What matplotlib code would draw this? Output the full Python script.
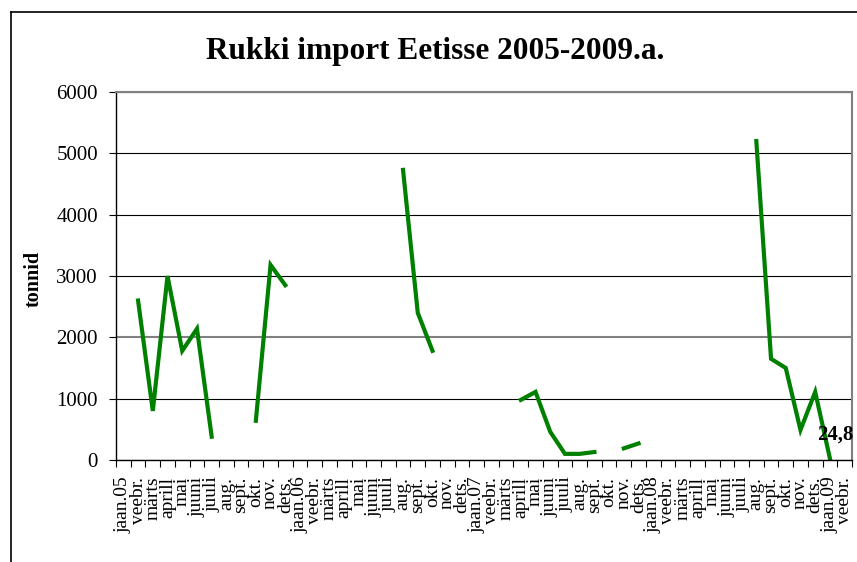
import numpy as np
import matplotlib
matplotlib.use('Agg')
import matplotlib.pyplot as plt
from matplotlib.lines import Line2D

# 字体设置
plt.rcParams['font.family'] = ['Liberation Serif', 'DejaVu Serif']

# 数据：月份标签
months = ['jaan.', 'veebr.', 'märts', 'aprill', 'mai', 'juuni',
          'juuli', 'aug.', 'sept.', 'okt.', 'nov.', 'dets.']
years = ['05', '06', '07', '08', '09']
labels = []
for y in years:
    for m in months:
        labels.append(m + y if m == 'jaan.' else m)
labels = labels[:50]

nan = np.nan
# 2005
v2005 = [nan, 2600, 800, 3000, 1780, 2140, 380, nan, nan, 640, 3180, 2850]
# 2006
v2006 = [nan, nan, nan, nan, nan, nan, nan, 4730, 2400, 1780, nan, nan]
# 2007
v2007 = [nan, nan, nan, 980, 1110, 460, 100, 100, 130, nan, 190, 270]
# 2008
v2008 = [nan, nan, nan, nan, nan, nan, nan, 5200, 1650, 1500, 490, 1110]
# 2009
v2009 = [24.8, nan]

values = v2005 + v2006 + v2007 + v2008 + v2009
x = np.arange(len(values))

fig = plt.figure(figsize=(8.57, 5.62), dpi=100)
ax = fig.add_axes([116/857, 1-460/562, (852-116)/857, (460-92)/562])

ax.plot(x, values, color='#008000', lw=3.0, solid_joinstyle='miter')

# 坐标轴
ax.set_xlim(-0.5, len(values)-0.5)
ax.set_ylim(0, 6000)
ax.set_yticks(range(0, 6001, 1000))
ax.tick_params(axis='y', labelsize=15, length=5, width=0.8, pad=8, direction='out')

ax.set_xticks(x)
ax.set_xticklabels(labels, rotation=90, fontsize=14, va='top', ha='center')
ax.tick_params(axis='x', which='major', length=0, pad=12)
ax.set_xticks(np.arange(-0.5, len(values), 1), minor=True)
ax.tick_params(axis='x', which='minor', length=5, width=0.8, direction='out')

# 网格线
ax.yaxis.grid(True, color='black', lw=0.8)
ax.get_ygridlines()[2].set_color('#808080')
ax.get_ygridlines()[2].set_linewidth(1.5)
ax.set_axisbelow(True)

for s in ['top', 'right']:
    ax.spines[s].set_color('#808080')
    ax.spines[s].set_linewidth(1.5)
for s in ['left', 'bottom']:
    ax.spines[s].set_color('black')
    ax.spines[s].set_linewidth(1.0)

# 数据标签
ax.annotate('24,8', xy=(48, values[48]), xytext=(4, 17), textcoords='offset points',
            ha='center', va='center', fontsize=15, fontweight='bold', annotation_clip=False)

# 标题和y轴名
fig.text(435/857, 1-52/562, 'Rukki import Eetisse 2005-2009.a.', ha='center', va='center',
         fontsize=22.5, fontweight='bold')
fig.text(34/857, 1-279/562, 'tonnid', rotation=90, ha='center', va='center',
         fontsize=14.5, fontweight='bold')

# 外框
fig.add_artist(Line2D([11/857, 11/857], [0, 1-12/562], transform=fig.transFigure, color='black', lw=1.2))
fig.add_artist(Line2D([11/857, 1], [1-12/562, 1-12/562], transform=fig.transFigure, color='black', lw=1.2))

fig.savefig('out.png', dpi=100)
